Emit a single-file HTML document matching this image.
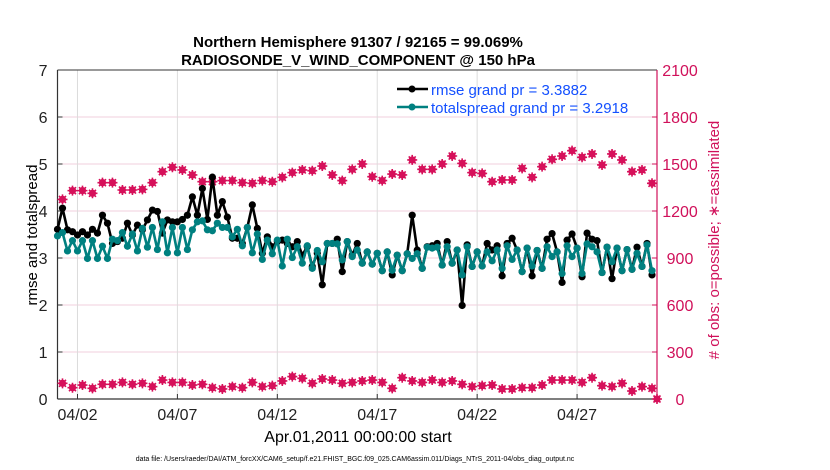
<!DOCTYPE html>
<html><head><meta charset="utf-8"><style>
body{margin:0;background:#fff;}
svg{display:block;font-family:"Liberation Sans",sans-serif;}
</style></head><body>
<svg id="chart" width="830" height="470" viewBox="0 0 830 470" xmlns="http://www.w3.org/2000/svg">
<text x="358" y="47" text-anchor="middle" font-size="15" font-weight="bold">Northern Hemisphere 91307 / 92165 = 99.069%</text>
<text x="358" y="65" text-anchor="middle" font-size="15" font-weight="bold">RADIOSONDE_V_WIND_COMPONENT @ 150 hPa</text>
<g id="grid"></g><g id="axes"></g><g id="marks"></g>
<text transform="translate(37,235) rotate(-90)" text-anchor="middle" font-size="15">rmse and totalspread</text>
<text transform="translate(719,240) rotate(-90)" text-anchor="middle" font-size="15" fill="#d0105a"># of obs: o=possible; ∗=assimilated</text>
<text x="358" y="442" text-anchor="middle" font-size="16">Apr.01,2011 00:00:00 start</text>
<text x="355" y="461" text-anchor="middle" font-size="7">data file: /Users/raeder/DAI/ATM_forcXX/CAM6_setup/f.e21.FHIST_BGC.f09_025.CAM6assim.011/Diags_NTrS_2011-04/obs_diag_output.nc</text>
<g>
<line x1="397" y1="89" x2="428" y2="89" stroke="#000" stroke-width="2.5"/><circle cx="412" cy="89" r="3.5" fill="#000"/>
<text x="431" y="95" font-size="15" fill="#1450ff">rmse grand pr = 3.3882</text>
<line x1="397" y1="107" x2="428" y2="107" stroke="#008080" stroke-width="2.5"/><circle cx="412" cy="107" r="3.5" fill="#008080"/>
<text x="431" y="113" font-size="15" fill="#1450ff">totalspread grand pr = 3.2918</text>
</g>
</svg>
<script>
const rmse = [3.61,4.06,3.60,3.56,3.49,3.56,3.49,3.61,3.53,3.91,3.74,3.31,3.35,3.42,3.74,3.49,3.70,3.60,3.81,4.02,3.99,3.53,3.81,3.77,3.77,3.82,3.91,4.30,3.91,4.48,
3.82,4.72,3.91,4.20,3.87,3.42,3.42,3.31,3.65,4.13,3.63,3.10,3.45,3.24,3.35,3.38,3.31,3.24,3.35,3.06,3.24,2.82,3.10,2.43,3.31,3.31,3.40,2.71,3.35,3.06,
3.31,2.89,3.13,2.87,3.10,2.73,3.13,2.64,3.06,2.73,3.09,3.91,3.17,2.78,3.24,3.26,3.31,2.85,3.35,2.89,3.17,1.99,3.28,2.82,3.13,2.83,3.31,3.17,3.26,2.62,
3.31,3.42,3.17,2.71,3.21,2.62,3.16,2.78,3.40,3.52,3.13,2.48,3.38,3.51,3.21,2.60,3.53,3.40,3.37,2.69,3.23,2.56,3.21,2.73,3.18,2.76,3.23,2.82,3.31,2.64];
const spread = [3.47,3.54,3.15,3.37,3.15,3.37,2.99,3.37,2.99,3.25,2.99,3.40,3.37,3.54,3.25,3.51,3.15,3.63,3.23,3.65,3.18,3.77,3.11,3.65,3.11,3.65,3.18,3.60,3.77,3.79,
3.60,3.58,3.74,3.65,3.65,3.45,3.61,3.26,3.65,3.11,3.51,2.97,3.38,3.09,3.38,2.83,3.40,3.01,3.24,2.89,3.26,2.78,3.16,2.92,3.31,3.31,3.30,2.96,3.35,3.03,
3.17,2.89,3.13,2.87,3.10,2.73,3.13,2.74,3.06,2.73,3.09,2.99,3.09,2.78,3.23,3.21,3.23,2.85,3.24,2.89,3.17,2.64,3.24,2.82,3.13,2.83,3.13,2.94,3.17,2.78,
3.26,2.97,3.17,2.71,3.21,2.83,3.16,2.78,3.24,3.03,3.13,2.67,3.26,3.03,3.21,2.67,3.30,3.24,3.13,2.69,3.23,2.92,3.21,2.73,3.18,2.76,3.10,2.82,3.28,2.73];
const obsTop = [1274,1330,1330,1313,1381,1381,1334,1334,1338,1381,1451,1479,1462,1430,1387,1387,1394,1394,1381,1377,1394,1387,1415,1445,1462,1457,1487,1430,1394,1466,1500,
1419,1394,1436,1430,1526,1466,1466,1500,1551,1504,1445,1440,1387,1398,1398,1472,1415,1483,1530,1551,1585,1543,1564,1494,1564,1526,1451,1462,1377];
const obsBottom = [100,72,89,68,94,94,106,94,100,79,121,106,106,89,94,72,64,79,72,106,79,85,115,143,132,100,128,121,100,106,
115,121,106,68,136,115,106,121,106,115,94,79,85,89,64,64,72,72,89,121,121,121,106,136,85,79,100,51,79,68];
const yTicks = [0,1,2,3,4,5,6,7];
const y2Ticks = [0,300,600,900,1200,1500,1800,2100];
const xTickDays = [1,6,11,16,21,26];
const xTickLabels = ['04/02','04/07','04/12','04/17','04/22','04/27'];

const X0=57.5, X1=657, Y0=399, Y1=70, DAYS=30;
const xs = d => X0 + d/DAYS*(X1-X0);
const ys = v => Y0 - v/7*(Y0-Y1);
const ys2 = v => Y0 - v/2100*(Y0-Y1);
const NS='http://www.w3.org/2000/svg';
function mk(parent,tag,attrs){const e=document.createElementNS(NS,tag);for(const k in attrs)e.setAttribute(k,attrs[k]);parent.appendChild(e);return e;}
const grid=document.getElementById('grid'), axes=document.getElementById('axes'), marks=document.getElementById('marks');

yTicks.forEach(t=>{
  if(t>0){const g=mk(grid,'line',{x1:X0,x2:X1,y1:ys(t),y2:ys(t),stroke:'#f2cfdc','stroke-width':1});
  
  }
  mk(axes,'line',{x1:X0,x2:X0+5,y1:ys(t),y2:ys(t),stroke:'#333'});
  const lb=mk(axes,'text',{x:X0-10,y:ys(t)+6,'text-anchor':'end','font-size':16,fill:'#222'});
  lb.textContent=t;
  
  
});
y2Ticks.forEach(t=>{
  mk(axes,'line',{x1:X1-5,x2:X1,y1:ys2(t),y2:ys2(t),stroke:'#d0105a'});
  const lb=mk(axes,'text',{x:680,y:ys2(t)+6,'text-anchor':'middle','font-size':16,fill:'#d0105a'});
  lb.textContent=t;
  
  
});
xTickDays.forEach((d,i)=>{
  const g=mk(grid,'line',{x1:xs(d),x2:xs(d),y1:Y1,y2:Y0,stroke:'#dcdcdc','stroke-width':1});
  
  
  mk(axes,'line',{x1:xs(d),x2:xs(d),y1:Y0,y2:Y0-5,stroke:'#333'});
  const lb=mk(axes,'text',{x:xs(d),y:420,'text-anchor':'middle','font-size':16,fill:'#222'});
  lb.textContent=xTickLabels[i];
  
  
});
const lt=mk(axes,'line',{x1:X0,x2:X1,y1:Y1,y2:Y1,stroke:'#333','stroke-width':1});


const la=mk(axes,'line',{x1:X0,x2:X0,y1:Y1,y2:Y0,stroke:'#333','stroke-width':1.2});


const lb2=mk(axes,'line',{x1:X0,x2:X1,y1:Y0,y2:Y0,stroke:'#333','stroke-width':1.2});


const lr=mk(axes,'line',{x1:X1,x2:X1,y1:Y1,y2:Y0,stroke:'#d0105a','stroke-width':1.2});



function pinkMarker(x,y){
  mk(marks,'circle',{cx:x,cy:y,r:3.6,fill:'#d6105a'});
  const p=mk(marks,'path',{d:`M${x-5},${y}H${x+5}M${x},${y-5}V${y+5}M${x-3.5},${y-3.5}L${x+3.5},${y+3.5}M${x-3.5},${y+3.5}L${x+3.5},${y-3.5}`,stroke:'#d6105a','stroke-width':1.6});
  
  
}
[obsTop,obsBottom].forEach(arr=>{
  arr.forEach((v,k)=>pinkMarker(xs(0.25+0.5*k),ys2(v)));
});
pinkMarker(xs(30),ys2(0));

function series(arr,color,name){
  const pts=arr.map((v,i)=>xs(i*0.25)+','+ys(v)).join(' ');
  const pl=mk(marks,'polyline',{points:pts,fill:'none',stroke:color,'stroke-width':2.6,'stroke-linejoin':'round'});
  
  
  arr.forEach((v,i)=>{
    const c=mk(marks,'circle',{cx:xs(i*0.25),cy:ys(v),r:3.6,fill:color});
    
    
  });
}
series(rmse,'#000','rmse');
series(spread,'#008080','totalspread');
</script>
</body></html>
